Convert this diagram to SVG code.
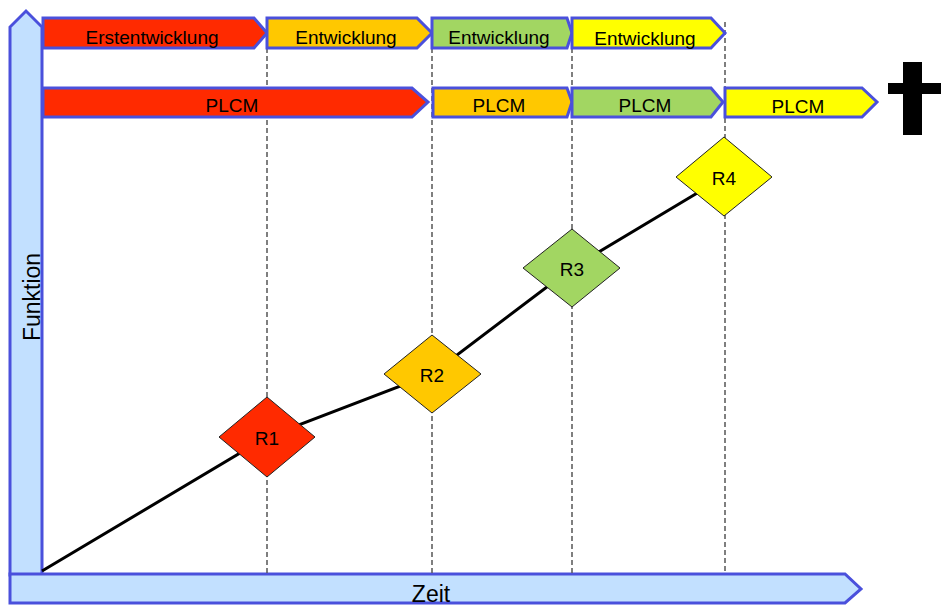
<svg xmlns="http://www.w3.org/2000/svg" width="946" height="615" viewBox="0 0 946 615">
<style>
.ax{fill:#C2E0FF;stroke:#4A50DC;stroke-width:3;stroke-linejoin:miter}
.ar{stroke:#4A50DC;stroke-width:3;stroke-linejoin:miter}
.t{font-family:"Liberation Sans",Arial,sans-serif;fill:#000;text-anchor:middle;font-size:19px}
.big{font-size:23px}
.dash{stroke:#555;stroke-width:1.5;stroke-dasharray:5,3;fill:none}
.dm{stroke:#222;stroke-width:1}
</style>
<rect width="946" height="615" fill="#fff"/>
<g id="axes">
<path class="ax" d="M10,575 L10,27 L26,11 L42,27 L42,575 Z"/>
<path class="ax" d="M10,574 L845,574 L861,589 L845,603 L10,603 Z"/>
<text class="t big" x="431" y="602">Zeit</text>
<text class="t big" transform="translate(40,297) rotate(-90)">Funktion</text>
</g>
<g id="guides">
<line class="dash" x1="267" y1="48" x2="267" y2="573"/>
<line class="dash" x1="432" y1="48" x2="432" y2="573"/>
<line class="dash" x1="572" y1="48" x2="572" y2="573"/>
<line class="dash" x1="725" y1="22" x2="725" y2="573"/>
</g>
<g id="dev-row">
<g id="erstentwicklung"><path class="ar" fill="#FF2A00" d="M43,18 L254,18 L267,33 L254,48 L43,48 Z"/><text class="t" x="152" y="44">Erstentwicklung</text></g>
<g id="entwicklung1"><path class="ar" fill="#FFC800" d="M267,18 L417,18 L432,33 L417,48 L267,48 Z"/><text class="t" x="346" y="44">Entwicklung</text></g>
<g id="entwicklung2"><path class="ar" fill="#A2D662" d="M432,18 L567,18 L572,33 L567,48 L432,48 Z"/><text class="t" x="499" y="44">Entwicklung</text></g>
<g id="entwicklung3"><path class="ar" fill="#FFFF00" d="M572,18 L711,18 L725,33 L711,48 L572,48 Z"/><text class="t" x="645" y="45">Entwicklung</text></g>
</g>
<g id="plcm-row">
<g id="plcm1"><path class="ar" fill="#FF2A00" d="M43,88 L412,88 L428,102 L412,117 L43,117 Z"/><text class="t" x="232" y="112">PLCM</text></g>
<g id="plcm2"><path class="ar" fill="#FFC800" d="M433,88 L567,88 L572,102 L567,117 L433,117 Z"/><text class="t" x="499" y="112">PLCM</text></g>
<g id="plcm3"><path class="ar" fill="#A2D662" d="M572,88 L711,88 L723,102 L711,117 L572,117 Z"/><text class="t" x="645" y="112">PLCM</text></g>
<g id="plcm4"><path class="ar" fill="#FFFF00" d="M725,88 L862,88 L877,102 L862,117 L725,117 Z"/><text class="t" x="798" y="113">PLCM</text></g>
</g>
<g id="cross">
<rect x="903" y="62" width="19" height="73" fill="#000"/>
<rect x="888" y="83" width="53" height="11" fill="#000"/>
</g>
<g id="connectors">
<polyline points="42,571 267,437 432,374 572,268 724,177" fill="none" stroke="#000" stroke-width="3"/>
</g>
<g id="R1"><path class="dm" fill="#FF2A00" d="M267,397 L315,437 L267,477 L219,437 Z"/><text class="t" x="267" y="445">R1</text></g>
<g id="R2"><path class="dm" fill="#FFC800" d="M432,335 L481,374 L432,413 L384,374 Z"/><text class="t" x="432" y="382">R2</text></g>
<g id="R3"><path class="dm" fill="#A2D662" d="M572,229 L620,268 L572,307 L523,268 Z"/><text class="t" x="572" y="276">R3</text></g>
<g id="R4"><path class="dm" fill="#FFFF00" d="M724,137 L772,177 L724,216 L676,177 Z"/><text class="t" x="724" y="185">R4</text></g>
</svg>
